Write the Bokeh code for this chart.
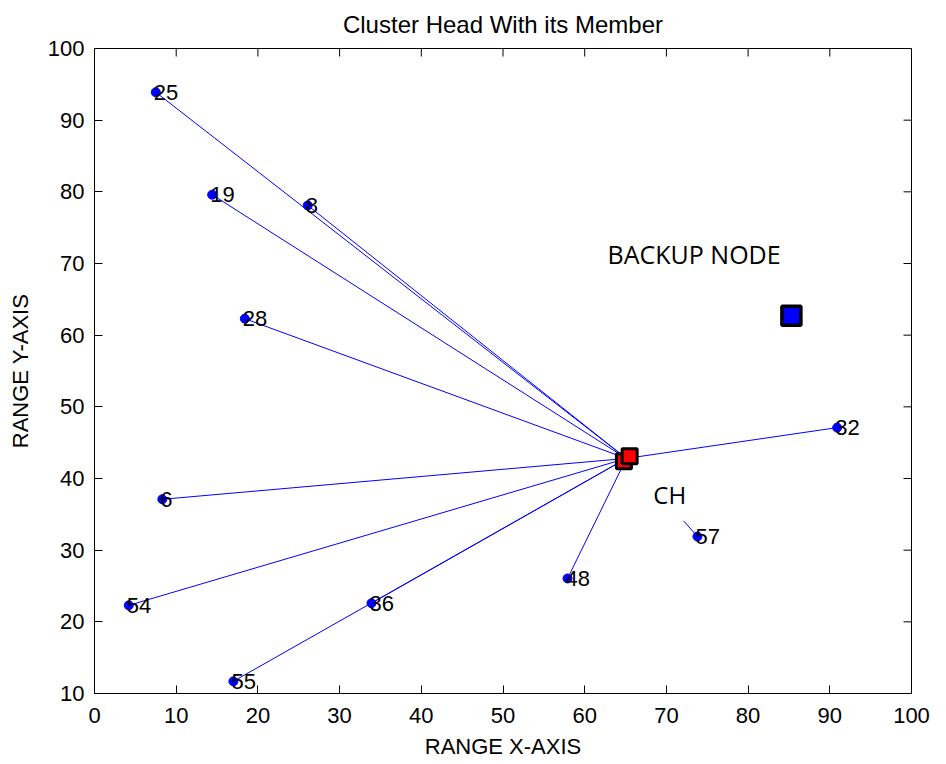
import math
from bokeh.plotting import figure
from bokeh.models import ColumnDataSource, Range1d, Label
from bokeh.embed import file_html
from bokeh.resources import INLINE
from bokeh.core.properties import value

# ---- data ----
node_ids = ["25", "19", "8", "28", "6", "54", "55", "36", "48", "57", "32"]
node_x = [7.5, 14.4, 26.1, 18.4, 8.3, 4.2, 17.0, 33.9, 57.9, 73.8, 90.9]
node_y = [93.9, 79.6, 78.1, 62.3, 37.1, 22.3, 11.7, 22.6, 26.05, 31.9, 47.1]
linked = [True, True, True, True, True, True, True, True, True, False, True]

ch_x = 65.1
ch_y = 42.8
ch_marks_x = [64.8, 65.5]
ch_marks_y = [42.4, 43.1]

stub_x = [73.8, 72.1]
stub_y = [31.9, 34.1]

backup_x = [85.3]
backup_y = [62.7]

x_ticks = [0, 10, 20, 30, 40, 50, 60, 70, 80, 90, 100]
y_ticks = [10, 20, 30, 40, 50, 60, 70, 80, 90, 100]

X_MIN, X_MAX = 0, 100
Y_MIN, Y_MAX = 10, 100

FONT = "Liberation Sans"

p = figure(frame_width=817, frame_height=645,
           x_range=Range1d(X_MIN, X_MAX), y_range=Range1d(Y_MIN, Y_MAX),
           output_backend="svg", toolbar_location=None,
           min_border_left=94, min_border_top=48, min_border_right=20, min_border_bottom=60,
           title="Cluster Head With its Member")
p.title.align = "center"
p.title.vertical_align = "top"
p.title.text_font = FONT
p.title.text_font_size = "24px"
p.title.text_font_style = "normal"
p.title.text_color = "black"
p.title.offset = 0
p.title.standoff = 18
p.grid.visible = False
p.outline_line_color = "black"
p.outline_line_width = 1

for ax in (p.xaxis[0], p.yaxis[0]):
    ax.major_tick_in = 8
    ax.major_tick_out = 0
    ax.minor_tick_in = 0
    ax.minor_tick_out = 0
    ax.major_label_text_font = FONT
    ax.major_label_text_font_size = "22px"
    ax.major_label_text_color = "black"
    ax.axis_label_text_font = FONT
    ax.axis_label_text_font_size = "22px"
    ax.axis_label_text_font_style = "normal"
    ax.axis_label_text_color = "black"
    ax.axis_line_color = "black"
    ax.major_tick_line_color = "black"

p.xaxis[0].ticker = x_ticks
p.yaxis[0].ticker = y_ticks
p.xaxis[0].axis_label = "RANGE X-AXIS"
p.yaxis[0].axis_label = "RANGE Y-AXIS"
p.xaxis[0].major_label_standoff = 14
p.yaxis[0].major_label_standoff = 10
p.xaxis[0].axis_label_standoff = 8
p.yaxis[0].axis_label_standoff = 12

# box ticks on the top and right edges (inward, 8 px)
p.ray(x=x_ticks, y=[Y_MAX] * len(x_ticks), length=8, length_units="screen",
      angle=-math.pi / 2, line_color="black", line_width=1)
p.ray(x=[X_MAX] * len(y_ticks), y=y_ticks, length=8, length_units="screen",
      angle=math.pi, line_color="black", line_width=1)

# connection lines
x0s = [x for x, l in zip(node_x, linked) if l]
y0s = [y for y, l in zip(node_y, linked) if l]
p.segment(x0=x0s, y0=y0s, x1=[ch_x] * len(x0s), y1=[ch_y] * len(y0s),
          line_color="blue", line_width=1)
p.line(stub_x, stub_y, line_color="blue", line_width=1)

# nodes
src = ColumnDataSource(dict(x=node_x, y=node_y, t=node_ids))
p.scatter("x", "y", source=src, size=9, color="blue")
p.text("x", "y", text="t", source=src, x_offset=-2, text_baseline="middle",
       text_align="left", text_font=value(FONT), text_font_size="22px",
       text_color="black")

# cluster head
p.scatter(ch_marks_x, ch_marks_y, marker="square", size=15, fill_color="red",
          line_color="black", line_width=3)

# backup node
p.scatter(backup_x, backup_y, marker="square", size=19, fill_color="blue",
          line_color="black", line_width=3.5)

p.add_layout(Label(x=62.8, y=71.3, text="BACKUP NODE", text_font="Open Sans",
                   text_font_size="25px", text_baseline="middle", text_color="black"))
p.add_layout(Label(x=68.4, y=37.8, text="CH", text_font="Open Sans",
                   text_font_size="24px", text_baseline="middle", text_color="black"))

open("out.html", "w").write(file_html(p, INLINE))
